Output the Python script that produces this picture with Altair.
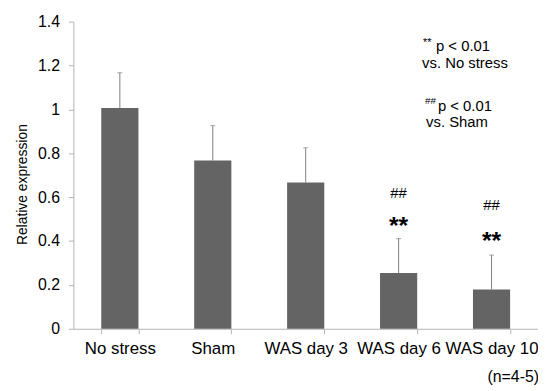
import altair as alt
import pandas as pd

categories = ["No stress", "Sham", "WAS day 3", "WAS day 6", "WAS day 10"]
means = [1.007, 0.767, 0.667, 0.254, 0.179]
errors = [0.16, 0.159, 0.158, 0.157, 0.157]
star_labels = ["", "", "", "**", "**"]
star_y = [None, None, None, 0.47, 0.40]
hash_labels = ["", "", "", "##", "##"]
hash_y = [None, None, None, 0.619, 0.565]
y_ticks = [0, 0.2, 0.4, 0.6, 0.8, 1, 1.2, 1.4]

df = pd.DataFrame({
    "cat": categories,
    "mean": means,
    "top": [m + e for m, e in zip(means, errors)],
    "star": star_labels,
    "star_y": star_y,
    "hash": hash_labels,
    "hash_y": hash_y,
})

FONT = "Liberation Sans"
xenc = alt.X("cat:N", sort=categories, title=None,
             scale=alt.Scale(paddingInner=0.6, paddingOuter=0.3),
             axis=alt.Axis(labelAngle=0, labelFontSize=17, labelColor="black",
                           labelFont=FONT, tickBand="extent", tickSize=5,
                           domainColor="#b3b3b3", tickColor="#b3b3b3",
                           labelPadding=7))
yscale = alt.Scale(domain=[0, 1.4], nice=False)
yenc = alt.Y("mean:Q", scale=yscale, title="Relative  expression",
             axis=alt.Axis(values=y_ticks, format="~g", grid=False,
                           labelFontSize=16, labelColor="black", labelFont=FONT,
                           tickSize=5, labelPadding=9,
                           domainColor="#b3b3b3", tickColor="#b3b3b3",
                           titleFontSize=14, titleFont=FONT, titleFontWeight="normal",
                           titleColor="black", titleX=-47, titleY=164,
                           titleAngle=270, titleBaseline="alphabetic", titleAlign="center"))

base = alt.Chart(df)
bars = base.mark_bar(color="#646464").encode(x=xenc, y=yenc)
err_rule = base.mark_rule(color="#808080", strokeWidth=1).encode(
    x=alt.X("cat:N", sort=categories), y=alt.Y("mean:Q", scale=yscale), y2="top:Q")
err_cap = base.mark_tick(color="#808080", size=5, thickness=1).encode(
    x=alt.X("cat:N", sort=categories), y=alt.Y("top:Q", scale=yscale))
stars = base.transform_filter("datum.star != ''").mark_text(
    fontSize=25, fontWeight="bold", font=FONT, color="black", baseline="middle").encode(
    x=alt.X("cat:N", sort=categories), y=alt.Y("star_y:Q", scale=yscale), text="star:N")
hashes = base.transform_filter("datum.hash != ''").mark_text(
    fontSize=15, font=FONT, color="black", baseline="middle").encode(
    x=alt.X("cat:N", sort=categories), y=alt.Y("hash_y:Q", scale=yscale), text="hash:N")

notes_text = ["**", "p < 0.01", "vs. No stress", "##", "p < 0.01", "vs. Sham", "(n=4-5)"]
notes_x = [353, 366, 352, 355, 368, 356, 418]
notes_y = [21.5, 25, 42, 80, 85, 101, 359]
notes_size = [11, 15, 15, 10, 15, 15, 16]

def note(i):
    return alt.Chart(pd.DataFrame({"t": [notes_text[i]]})).mark_text(
        align="left", baseline="middle", font=FONT, fontSize=notes_size[i], color="black"
    ).encode(x=alt.value(notes_x[i]), y=alt.value(notes_y[i]), text="t:N")

layers = [bars, err_rule, err_cap, stars, hashes] + [note(i) for i in range(len(notes_text))]
chart = alt.layer(*layers).properties(
    width=469, height=310,
    autosize=alt.AutoSizeParams(type="none"),
    padding={"left": 66, "top": 12, "right": 0, "bottom": 60},
).configure_view(stroke=None)

chart.save("out.html", embed_options={"renderer": "svg", "actions": False})
